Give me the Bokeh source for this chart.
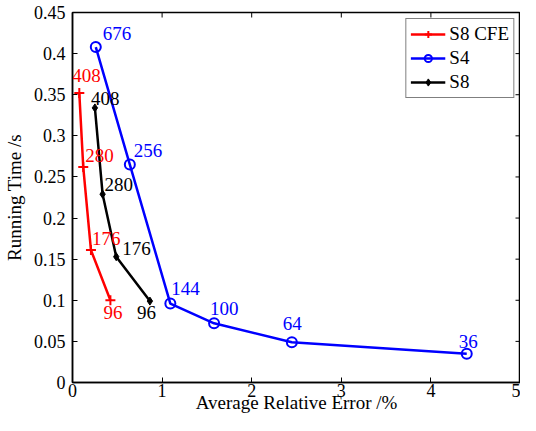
import math
from bokeh.plotting import figure
from bokeh.models import Range1d, FixedTicker, ColumnDataSource, Legend, LegendItem, LabelSet
from bokeh.embed import file_html
from bokeh.resources import INLINE

# Data
cfe_x = [0.076, 0.12, 0.206, 0.423]
cfe_y = [0.352, 0.262, 0.161, 0.100]
cfe_lbl = ["408", "280", "176", "96"]

s4_x = [0.26, 0.64, 1.092, 1.58, 2.448, 4.40]
s4_y = [0.408, 0.265, 0.096, 0.072, 0.049, 0.035]
s4_lbl = ["676", "256", "144", "100", "64", "36"]

s8_x = [0.25, 0.336, 0.488, 0.864]
s8_y = [0.334, 0.229, 0.153, 0.099]
s8_lbl = ["408", "280", "176", "96"]

x_ticks = [0, 1, 2, 3, 4, 5]
y_ticks = [0, 0.05, 0.1, 0.15, 0.2, 0.25, 0.3, 0.35, 0.4, 0.45]
X_MAX = 5
Y_MAX = 0.45

# label offsets (style, pixels)
cfe_dx = [-7, 2, 1, -7]
cfe_dy = [11, 5, 5, -19]
s4_dx = [7, 4, 1, -4, -9, -8]
s4_dy = [7, 8, 9, 8, 12, 6]
s8_dx = [-4, 2, 6, -13]
s8_dy = [3, 3, 2, -18]

FONT = "Liberation Serif"

p = figure(width=520, height=415, output_backend="svg", toolbar_location=None,
           x_range=Range1d(0, X_MAX), y_range=Range1d(0, Y_MAX),
           min_border_left=63, min_border_right=0, min_border_top=12, min_border_bottom=0)
p.grid.visible = False
p.outline_line_color = "black"
p.outline_line_width = 1.5

for ax in p.xaxis + p.yaxis:
    ax.major_label_text_font = FONT
    ax.major_label_text_font_size = "18px"
    ax.major_label_text_color = "black"
    ax.axis_label_text_font = FONT
    ax.axis_label_text_font_size = "19px"
    ax.axis_label_text_font_style = "normal"
    ax.axis_label_text_color = "black"
    ax.axis_line_color = "black"
    ax.major_tick_line_color = "black"
    ax.major_tick_in = 5
    ax.major_tick_out = 0
    ax.minor_tick_line_color = None
    ax.axis_line_width = 1.5
    ax.major_tick_line_width = 1

p.xaxis.ticker = FixedTicker(ticks=x_ticks)
p.yaxis.ticker = FixedTicker(ticks=y_ticks)
p.xaxis.axis_label = "Average Relative Error /%"
p.yaxis.axis_label = "Running Time /s"
p.xaxis.major_label_standoff = 1
p.xaxis.axis_label_standoff = -8
p.yaxis.major_label_standoff = 7
p.yaxis.axis_label_standoff = 6

# mirrored ticks on top and right (dash markers centred on the frame edge, clipped to frame)
p.scatter(x_ticks, [Y_MAX] * len(x_ticks), marker="dash", size=10, angle=math.pi / 2,
          line_color="black", line_width=1)
p.scatter([X_MAX] * len(y_ticks), y_ticks, marker="dash", size=10,
          line_color="black", line_width=1)

src_cfe = ColumnDataSource(dict(x=cfe_x, y=cfe_y, t=cfe_lbl, dx=cfe_dx, dy=cfe_dy))
src_s4 = ColumnDataSource(dict(x=s4_x, y=s4_y, t=s4_lbl, dx=s4_dx, dy=s4_dy))
src_s8 = ColumnDataSource(dict(x=s8_x, y=s8_y, t=s8_lbl, dx=s8_dx, dy=s8_dy))

LW = 2.5
l1 = p.line("x", "y", source=src_cfe, line_color="red", line_width=LW)
m1 = p.scatter("x", "y", source=src_cfe, marker="cross", size=10, line_color="red", line_width=2)
l2 = p.line("x", "y", source=src_s4, line_color="blue", line_width=LW)
m2 = p.scatter("x", "y", source=src_s4, marker="circle", size=10, line_color="blue",
               fill_color=None, line_width=2)
l3 = p.line("x", "y", source=src_s8, line_color="black", line_width=LW)
m3 = p.scatter("x", "y", source=src_s8, marker="diamond", size=8, line_color="black",
               fill_color="black", line_width=1)

for src, col in [(src_cfe, "red"), (src_s4, "blue"), (src_s8, "black")]:
    p.add_layout(LabelSet(x="x", y="y", text="t", source=src, x_offset="dx", y_offset="dy",
                          text_font=FONT, text_font_size="19px", text_color=col,
                          text_baseline="alphabetic", text_align="left"))

legend = Legend(items=[
    LegendItem(label="S8 CFE", renderers=[l1, m1]),
    LegendItem(label="S4", renderers=[l2, m2]),
    LegendItem(label="S8", renderers=[l3, m3]),
], location="top_right")
legend.label_text_font = FONT
legend.label_text_font_size = "19px"
legend.label_text_color = "black"
legend.border_line_color = "black"
legend.border_line_width = 1
legend.glyph_width = 35
legend.glyph_height = 18
legend.label_standoff = 4
legend.spacing = 2
legend.padding = 4
legend.margin = 6
legend.label_height = 18
p.add_layout(legend)

open("out.html", "w").write(file_html(p, INLINE))
